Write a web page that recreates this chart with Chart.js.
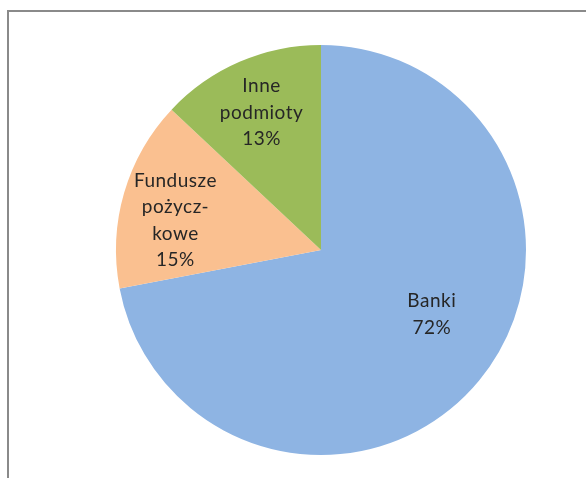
<!DOCTYPE html>
<html>
<head>
<meta charset="utf-8">
<script src="https://cdn.jsdelivr.net/npm/chart.js@4"></script>
<style>
  html, body { margin: 0; padding: 0; background: #fff; }
  #wrap { position: relative; width: 586px; height: 478px; overflow: hidden; }
  #frame { position: absolute; left: 7px; top: 10px; width: 700px; height: 600px;
           border-left: 2px solid #8a8a8a; border-top: 2px solid #8a8a8a; box-sizing: border-box; }
  canvas { position: absolute; left: 0; top: 0; }
</style>
</head>
<body>
<div id="wrap">
  <div id="frame"></div>
  <canvas id="c" width="586" height="478"></canvas>
</div>
<script>
const categories = [["Banki"], ["Fundusze", "pożycz-", "kowe"], ["Inne", "podmioty"]];
const values = [72, 15, 13];
const colors = ["#8EB4E3", "#FAC090", "#9BBB59"];
// label placement: radial fraction and small tweaks (px)
const labelRadius = [0.60, 0.78, 0.73];
const labelShift = [[16, -14], [8, 15], [0, 0]];

const labelPlugin = {
  id: 'pieLabels',
  afterDatasetsDraw(chart) {
    const ctx = chart.ctx;
    const meta = chart.getDatasetMeta(0);
    const total = values.reduce((a, b) => a + b, 0);
    ctx.save();
    ctx.font = '19px Lato';
    if ('letterSpacing' in ctx) ctx.letterSpacing = '0.5px';
    ctx.fillStyle = '#262626';
    ctx.textAlign = 'center';
    ctx.textBaseline = 'middle';
    meta.data.forEach((arc, i) => {
      const p = arc.getProps(['x', 'y', 'startAngle', 'endAngle', 'outerRadius'], true);
      const mid = (p.startAngle + p.endAngle) / 2;
      const r = p.outerRadius * labelRadius[i];
      const cx = p.x + Math.cos(mid) * r + labelShift[i][0];
      const cy = p.y + Math.sin(mid) * r + labelShift[i][1];
      const lines = categories[i].concat([Math.round(values[i] / total * 100) + '%']);
      const lh = 26.5;
      const y0 = cy - (lines.length - 1) * lh / 2;
      lines.forEach((t, k) => ctx.fillText(t, cx, y0 + k * lh));
    });
    ctx.restore();
  }
};

new Chart(document.getElementById('c'), {
  type: 'pie',
  data: {
    labels: categories.map(c => c.join(' ')),
    datasets: [{
      data: values,
      backgroundColor: colors,
      borderWidth: 0
    }]
  },
  options: {
    responsive: false,
    animation: false,
    layout: { padding: { left: 116, right: 60, top: 45, bottom: 23 } },
    plugins: { legend: { display: false }, tooltip: { enabled: false } }
  },
  plugins: [labelPlugin]
});
</script>
</body>
</html>
